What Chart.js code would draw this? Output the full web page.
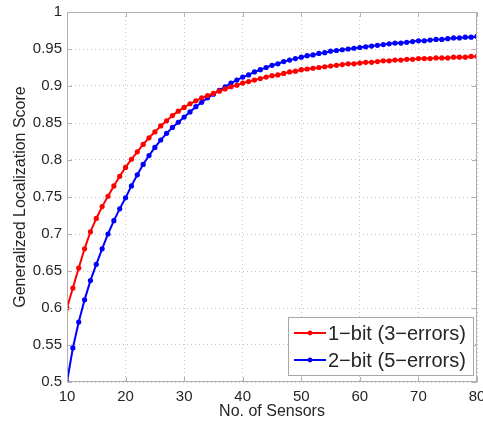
<!DOCTYPE html>
<html>
<head>
<meta charset="utf-8">
<script src="https://cdn.jsdelivr.net/npm/chart.js@4.4.0/dist/chart.umd.min.js"></script>
<style>
  html, body { margin: 0; padding: 0; background: #fff; }
</style>
</head>
<body>
<canvas id="score-chart" width="483" height="421"></canvas>
<script>
// number of sensors
var sensors = [10, 11, 12, 13, 14, 15, 16, 17, 18, 19,
               20, 21, 22, 23, 24, 25, 26, 27, 28, 29,
               30, 31, 32, 33, 34, 35, 36, 37, 38, 39,
               40, 41, 42, 43, 44, 45, 46, 47, 48, 49,
               50, 51, 52, 53, 54, 55, 56, 57, 58, 59,
               60, 61, 62, 63, 64, 65, 66, 67, 68, 69,
               70, 71, 72, 73, 74, 75, 76, 77, 78, 79, 80];

// 1-bit, 3 errors
var oneBit = [0.600, 0.627, 0.654, 0.680, 0.703, 0.721, 0.737, 0.751, 0.765, 0.778,
              0.790, 0.801, 0.811, 0.821, 0.830, 0.838, 0.846, 0.853, 0.860, 0.866,
              0.871, 0.876, 0.880, 0.884, 0.887, 0.890, 0.893, 0.896, 0.899, 0.901,
              0.904, 0.906, 0.908, 0.910, 0.912, 0.914, 0.915, 0.917, 0.919, 0.920,
              0.922, 0.923, 0.924, 0.925, 0.926, 0.927, 0.928, 0.929, 0.930, 0.930,
              0.931, 0.932, 0.932, 0.933, 0.934, 0.934, 0.935, 0.935, 0.936, 0.936,
              0.937, 0.937, 0.937, 0.938, 0.938, 0.938, 0.939, 0.939, 0.939, 0.940, 0.940];

// 2-bit, 5 errors
var twoBit = [0.500, 0.546, 0.581, 0.611, 0.637, 0.659, 0.680, 0.700, 0.718, 0.734,
              0.749, 0.765, 0.780, 0.794, 0.806, 0.817, 0.827, 0.836, 0.844, 0.851,
              0.858, 0.865, 0.872, 0.878, 0.884, 0.889, 0.894, 0.899, 0.904, 0.908,
              0.912, 0.915, 0.919, 0.922, 0.925, 0.928, 0.930, 0.933, 0.935, 0.937,
              0.939, 0.941, 0.942, 0.944, 0.945, 0.947, 0.948, 0.949, 0.950, 0.951,
              0.952, 0.953, 0.954, 0.955, 0.956, 0.957, 0.958, 0.958, 0.959, 0.960,
              0.961, 0.961, 0.962, 0.963, 0.963, 0.964, 0.965, 0.965, 0.966, 0.966, 0.967];

var seriesNames = ['1\u2212bit (3\u2212errors)', '2\u2212bit (5\u2212errors)'];
var seriesColors = ['#ff0000', '#0000ff'];

var FONT = 'Liberation Sans, Arial, sans-serif';
var TEXT = '#262626';
var FRAME = '#b0b0b0';

function toPoints(ys) {
    var pts = [];
    for (var i = 0; i < sensors.length; i++) {
        pts.push({x: sensors[i], y: ys[i]});
    }
    return pts;
}

function makeSet(label, ys, color) {
    return {
        label: label,
        data: toPoints(ys),
        borderColor: color,
        backgroundColor: color,
        borderWidth: 2,
        pointRadius: 2.6,
        pointBorderWidth: 0,
        pointBackgroundColor: color,
        tension: 0
    };
}

// box around the axes, inward ticks on all sides, legend in the lower right
var axesBox = {
    id: 'axesBox',
    afterDatasetsDraw: function(chart) {
        var ctx = chart.ctx;
        var a = chart.chartArea;
        var xs = chart.scales.x, ys = chart.scales.y;
        ctx.save();
        ctx.strokeStyle = FRAME;
        ctx.lineWidth = 1;
        ctx.beginPath();
        xs.ticks.forEach(function(t) {
            var px = Math.round(xs.getPixelForValue(t.value)) + 0.5;
            ctx.moveTo(px, a.bottom); ctx.lineTo(px, a.bottom - 5);
            ctx.moveTo(px, a.top); ctx.lineTo(px, a.top + 5);
        });
        ys.ticks.forEach(function(t) {
            var py = Math.round(ys.getPixelForValue(t.value)) + 0.5;
            ctx.moveTo(a.left, py); ctx.lineTo(a.left + 5, py);
            ctx.moveTo(a.right, py); ctx.lineTo(a.right - 5, py);
        });
        ctx.stroke();
        ctx.strokeRect(Math.round(a.left) + 0.5, Math.round(a.top) + 0.5,
                       Math.round(a.right - a.left) - 1, Math.round(a.bottom - a.top) - 1);

        // legend
        var bx = a.right - 189, by = a.bottom - 65, bw = 185, bh = 58;
        ctx.fillStyle = '#fff';
        ctx.fillRect(bx, by, bw, bh);
        ctx.strokeStyle = '#a8a8a8';
        ctx.strokeRect(bx + 0.5, by + 0.5, bw, bh);
        ctx.font = '20px ' + FONT;
        ctx.textBaseline = 'middle';
        ctx.textAlign = 'left';
        for (var i = 0; i < seriesNames.length; i++) {
            var ry = by + 16 + i * 27;
            ctx.strokeStyle = seriesColors[i];
            ctx.lineWidth = 2;
            ctx.beginPath();
            ctx.moveTo(bx + 6, ry); ctx.lineTo(bx + 38, ry);
            ctx.stroke();
            ctx.fillStyle = seriesColors[i];
            ctx.beginPath();
            ctx.arc(bx + 22, ry, 2.4, 0, Math.PI * 2);
            ctx.fill();
            ctx.fillStyle = TEXT;
            ctx.fillText(seriesNames[i], bx + 40, ry + 1);
        }
        ctx.restore();
    }
};

new Chart(document.getElementById('score-chart'), {
    type: 'line',
    data: {
        datasets: [
            makeSet(seriesNames[0], oneBit, seriesColors[0]),
            makeSet(seriesNames[1], twoBit, seriesColors[1])
        ]
    },
    options: {
        responsive: false,
        animation: false,
        layout: { padding: { left: 0, right: 6, top: 12, bottom: 0 } },
        plugins: {
            legend: { display: false },
            tooltip: { enabled: false }
        },
        scales: {
            x: {
                type: 'linear',
                min: 10,
                max: 80,
                afterFit: function(scale) {
                    scale.height = 39;
                    // let the last label run off the edge instead of shrinking the plot
                    scale.paddingLeft = 0;
                    scale.paddingRight = 0;
                },
                ticks: {
                    stepSize: 10,
                    padding: 6,
                    color: TEXT,
                    font: { family: FONT, size: 15 }
                },
                grid: { color: '#c4c4c4', drawTicks: false },
                border: { display: false, dash: [1, 3] },
                title: {
                    display: true,
                    text: 'No. of Sensors',
                    color: TEXT,
                    font: { family: FONT, size: 16 },
                    padding: { top: 0, bottom: 0 }
                }
            },
            y: {
                min: 0.5,
                max: 1,
                afterFit: function(scale) {
                    scale.width = 67;
                    scale.paddingTop = 0;
                    scale.paddingBottom = 0;
                },
                ticks: {
                    stepSize: 0.05,
                    padding: 5,
                    color: TEXT,
                    font: { family: FONT, size: 15 },
                    callback: function(v) { return String(parseFloat(v.toFixed(2))); }
                },
                grid: { color: '#c4c4c4', drawTicks: false },
                border: { display: false, dash: [1, 3] },
                title: {
                    display: true,
                    text: 'Generalized Localization Score',
                    color: TEXT,
                    font: { family: FONT, size: 16 },
                    padding: { top: 11, bottom: 0 }
                }
            }
        }
    },
    plugins: [axesBox]
});
</script>
</body>
</html>
